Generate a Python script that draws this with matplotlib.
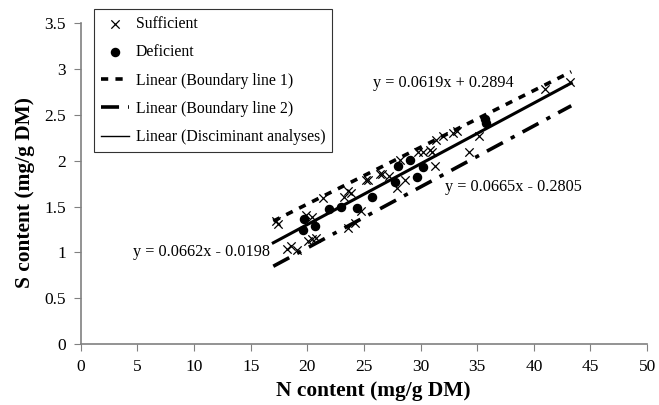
import matplotlib.pyplot as plt
import numpy as np

plt.rcParams['font.family'] = ['Liberation Serif', 'DejaVu Serif']

# sufficient (x) and deficient (dot) samples, N vs S content
suff_n = [17.2, 17.4, 18.2, 18.6, 19.1, 20.1, 20.4, 20.8, 19.9, 20.4, 21.4, 23.2, 23.6,
          23.9, 23.6, 24.2, 24.7, 25.2, 25.4, 26.4, 26.6, 27.2, 27.9, 28.2, 28.6, 29.8,
          30.2, 30.8, 31.0, 31.3, 31.4, 32.0, 32.9, 33.2, 34.3, 35.2, 41.0, 43.2]
suff_s = [1.34, 1.31, 1.04, 1.07, 1.03, 1.13, 1.15, 1.16, 1.41, 1.39, 1.59, 1.61, 1.67,
          1.65, 1.27, 1.32, 1.45, 1.79, 1.79, 1.86, 1.85, 1.83, 1.70, 2.01, 1.79, 2.10,
          2.09, 2.12, 2.10, 1.94, 2.23, 2.27, 2.30, 2.32, 2.09, 2.27, 2.78, 2.86]
def_n = [19.7, 19.6, 20.7, 21.9, 23.0, 24.4, 25.7, 27.7, 28.0, 29.1, 30.2, 29.7, 35.8, 35.7]
def_s = [1.36, 1.25, 1.29, 1.47, 1.50, 1.48, 1.61, 1.77, 1.94, 2.01, 1.93, 1.82, 2.41, 2.46]

# fitted lines (slope, intercept) and x span
line_x = [17.0, 43.3]
b1 = (0.0619, 0.2894)
b2 = (0.0665, -0.2805)
disc = (0.0662, -0.0198)

fig = plt.figure(figsize=(6.59, 4.05), dpi=100)
ax = fig.add_axes([0.1225, 0.150, 0.8595, 0.793])

ax.scatter(suff_n, suff_s, marker='x', s=36, color='black', linewidths=0.9,
           label='Sufficient')
ax.scatter(def_n, def_s, marker='o', s=34, color='black', label='Deficient')

xs = np.array(line_x)
ax.plot(xs, b1[0] * xs + b1[1], color='black', lw=2.6, dashes=(2.0, 2.0),
        label='Linear (Boundary line 1)')
ax.plot(xs, b2[0] * xs + b2[1], color='black', lw=2.6, dashes=(5, 2.5, 1.2, 2.5),
        label='Linear (Boundary line 2)')
ax.plot(xs, disc[0] * xs + disc[1], color='black', lw=2.2)
ax.plot([], [], color='black', lw=1.0, label='Linear (Disciminant analyses)')

ax.text(25.8, 2.85, 'y = 0.0619x + 0.2894', fontsize=11.7, va='center')
ax.text(32.2, 1.71, 'y = 0.0665x - 0.2805', fontsize=11.7, va='center')
ax.text(4.6, 1.01, 'y = 0.0662x - 0.0198', fontsize=11.7, va='center')

ax.set_xlim(0, 50)
ax.set_ylim(0, 3.5)
ax.set_xticks(np.arange(0, 51, 5))
ax.set_yticks(np.arange(0, 3.51, 0.5))
ax.set_yticklabels(['0', '0.5', '1', '1.5', '2', '2.5', '3', '3.5'])
ax.tick_params(direction='out', length=5, color='#808080', labelsize=12.5, pad=5.5)
for s in ['top', 'right']:
    ax.spines[s].set_visible(False)
for s in ['left', 'bottom']:
    ax.spines[s].set_color('#808080')
    ax.spines[s].set_linewidth(1.2)

ax.set_xlabel('N content (mg/g DM)', fontsize=15.4, fontweight='bold', va='center')
ax.set_ylabel('S content (mg/g DM)', fontsize=15.4, fontweight='bold', va='center')
ax.xaxis.set_label_coords(0.516, -0.146)
ax.yaxis.set_label_coords(-0.098, 0.474)

leg = ax.legend(loc='upper left', bbox_to_anchor=(94 / 659, 1 - 9 / 405),
                bbox_transform=fig.transFigure, fontsize=11.3, frameon=True,
                fancybox=False, edgecolor='black', handlelength=1.8,
                handletextpad=0.4, labelspacing=0.78, borderpad=0.45,
                borderaxespad=0)
leg.get_frame().set_linewidth(0.8)

fig.savefig('out.png', dpi=100)
